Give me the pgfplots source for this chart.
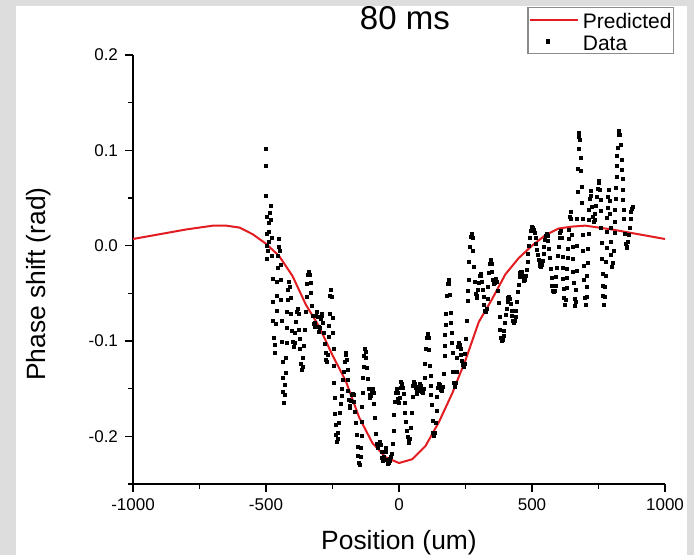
\documentclass[border=0pt]{standalone}
\usepackage{fontspec}
\setmainfont{Liberation Sans}
\usepackage{pgfplots}
\pgfplotsset{compat=1.18}
\definecolor{bggray}{RGB}{221,221,221}
\definecolor{predred}{RGB}{226,28,32}
\definecolor{legframe}{RGB}{140,140,140}
\pgfplotsset{
  predleg/.style={legend image code/.code={\draw[##1] (0pt,0pt) -- (24pt,0pt);}},
  dataleg/.style={legend image code/.code={\draw[mark repeat=2,mark phase=2,##1,only marks] plot coordinates {(0pt,0pt) (9pt,0pt) (24pt,0pt)};}},
}
\begin{document}
\begin{tikzpicture}[x=1pt,y=1pt]
\fill[bggray] (0,0) rectangle (347,277.5);
\fill[white] (8,0) rectangle (343.5,274.25);
\useasboundingbox (0,0) rectangle (347,277.5);
\begin{axis}[
  at={(66.5pt,35.5pt)}, anchor=south west,
  scale only axis, width=266pt, height=214.5pt,
  xmin=-1000, xmax=1000, ymin=-0.25, ymax=0.2,
  axis x line*=bottom, axis y line*=left,
  axis line style={line width=1pt,-},
  xtick={-1000,-500,0,500,1000}, xticklabels={-1000,-500,0,500,1000},
  minor xtick={-750,-250,250,750},
  ytick={-0.2,-0.1,0,0.1,0.2}, yticklabels={-0.2,-0.1,0.0,0.1,0.2},
  minor ytick={-0.25,-0.15,-0.05,0.05,0.15},
  tick align=outside, major tick length=4pt, minor tick length=2.5pt,
  every tick/.style={line width=0.8pt, black},
  ticklabel style={font=\fontsize{8.5}{10}\selectfont},
  title={80 ms},
  title style={at={(axis description cs:0.511,1.0326)}, anchor=base, font=\fontsize{16.5}{20}\selectfont},
  xlabel={Position (um)},
  xlabel style={at={(axis description cs:0.5,-0.1538)}, anchor=base, font=\fontsize{13.2}{16}\selectfont},
  ylabel={Phase shift (rad)},
  ylabel style={at={(axis description cs:-0.1654,0.466)}, anchor=base, rotate=0, font=\fontsize{13.2}{16}\selectfont},
  legend cell align=left,
  legend style={at={(axis description cs:1.0169,1.1119)}, anchor=north east, draw=legframe, line width=0.6pt, fill=white,
    font=\fontsize{10.5}{12}\selectfont, inner xsep=0.4pt, inner ysep=0pt, row sep=-1pt,
    nodes={inner xsep=0.5pt, inner ysep=0.25pt}, column sep=1.5pt},
]
\addplot[predred, line width=1pt, predleg] coordinates {
(-1000,0.007) (-900,0.012) (-800,0.017) (-700,0.021) (-650,0.021) (-600,0.019) (-550,0.012)
(-500,0.002) (-450,-0.011) (-400,-0.032) (-350,-0.062) (-300,-0.085) (-250,-0.115) (-200,-0.142)
(-150,-0.180) (-100,-0.207) (-50,-0.222) (0,-0.228) (50,-0.224) (100,-0.210) (150,-0.185)
(200,-0.155) (250,-0.120) (300,-0.080) (350,-0.056) (400,-0.030) (450,-0.013) (500,0.000)
(550,0.011) (600,0.018) (650,0.020) (700,0.021) (800,0.017) (900,0.012) (1000,0.007)
};
\addlegendentry{\rule{0pt}{10pt}Predicted}
\addplot[only marks, mark=square*, mark size=0.75pt, black, dataleg] table {
x y
-501 0.101
-500 0.084
-499 0.052
-498 0.030
-497 0.012
-496 0.000
-495 -0.014
-492 -0.006
-490.5 0.004
-489 0.014
-487.5 0.024
-486 0.034
-483 0.042
-480 0.027
-478.5 0.008
-477 -0.011
-475.5 -0.035
-474 -0.059
-472.5 -0.079
-471 -0.097
-468 -0.112
-465 -0.104
-462 -0.082
-460.5 -0.068
-459 -0.053
-457.5 -0.038
-456 -0.023
-454.5 -0.011
-453 -0.001
-450 0.007
-447 -0.005
-445.5 -0.020
-444 -0.036
-442.5 -0.057
-441 -0.079
-439.5 -0.101
-438 -0.122
-436.5 -0.139
-435 -0.153
-432 -0.165
-429 -0.157
-427.5 -0.146
-426 -0.133
-424.5 -0.118
-423 -0.102
-421.5 -0.086
-420 -0.070
-418.5 -0.057
-417 -0.046
-414 -0.038
-411 -0.043
-408 -0.055
-405 -0.072
-402 -0.089
-399 -0.101
-396 -0.106
-393 -0.102
-390 -0.092
-387 -0.080
-384 -0.070
-381 -0.066
-378 -0.072
-375 -0.088
-373.5 -0.098
-372 -0.108
-369 -0.124
-366 -0.130
-363 -0.127
-360 -0.118
-357 -0.105
-354 -0.088
-351 -0.070
-348 -0.054
-345 -0.040
-342 -0.031
-339 -0.028
-336 -0.031
-333 -0.039
-330 -0.050
-327 -0.063
-324 -0.074
-321 -0.082
-318 -0.085
-315 -0.081
-312 -0.074
-309 -0.070
-306 -0.075
-303 -0.085
-300 -0.090
-297 -0.086
-294 -0.077
-291 -0.072
-288 -0.074
-285 -0.081
-282 -0.091
-279 -0.103
-276 -0.113
-273 -0.120
-270 -0.122
-267 -0.115
-264 -0.096
-262.5 -0.084
-261 -0.072
-258 -0.053
-255 -0.046
-252 -0.054
-249 -0.076
-247.5 -0.092
-246 -0.108
-244.5 -0.126
-243 -0.144
-241.5 -0.160
-240 -0.176
-238.5 -0.188
-237 -0.198
-234 -0.206
-231 -0.203
-228 -0.196
-225 -0.186
-222 -0.175
-219 -0.166
-216 -0.158
-213 -0.150
-210 -0.141
-207 -0.132
-204 -0.122
-201 -0.115
-198 -0.112
-195 -0.120
-193.5 -0.130
-192 -0.141
-190.5 -0.152
-189 -0.162
-186 -0.170
-183 -0.168
-180 -0.163
-177 -0.157
-174 -0.155
-171 -0.157
-168 -0.164
-165 -0.174
-162 -0.186
-159 -0.199
-156 -0.211
-153 -0.221
-150 -0.228
-147 -0.230
-144 -0.222
-142.5 -0.212
-141 -0.200
-139.5 -0.185
-138 -0.169
-136.5 -0.154
-135 -0.139
-133.5 -0.127
-132 -0.116
-129 -0.108
-126 -0.111
-123 -0.118
-120 -0.128
-117 -0.140
-114 -0.150
-111 -0.157
-108 -0.160
-105 -0.158
-102 -0.153
-99 -0.150
-96 -0.154
-93 -0.166
-90 -0.181
-87 -0.197
-84 -0.208
-81 -0.212
-78 -0.211
-75 -0.208
-72 -0.206
-69 -0.209
-66 -0.216
-63 -0.223
-60 -0.226
-57 -0.222
-54 -0.216
-51 -0.212
-48 -0.216
-45 -0.225
-42 -0.229
-39 -0.228
-36 -0.226
-33 -0.224
-30 -0.222
-27 -0.218
-24 -0.208
-21 -0.194
-18 -0.178
-15 -0.164
-12 -0.154
-9 -0.150
-6 -0.154
-3 -0.161
0 -0.165
3 -0.160
6 -0.149
9 -0.143
12 -0.145
15 -0.149
18 -0.156
21 -0.165
24 -0.175
27 -0.185
30 -0.194
33 -0.201
36 -0.205
39 -0.207
42 -0.203
45 -0.191
48 -0.175
51 -0.159
54 -0.147
57 -0.143
60 -0.145
63 -0.149
66 -0.153
69 -0.155
72 -0.152
75 -0.148
78 -0.145
81 -0.147
84 -0.150
87 -0.153
90 -0.154
93 -0.150
96 -0.139
99 -0.124
102 -0.108
105 -0.097
108 -0.093
111 -0.097
114 -0.109
117 -0.126
118.5 -0.137
120 -0.147
121.5 -0.157
123 -0.167
126 -0.184
129 -0.196
132 -0.200
135 -0.196
138 -0.186
141 -0.173
144 -0.159
147 -0.149
150 -0.145
153 -0.146
156 -0.148
159 -0.151
162 -0.152
165 -0.148
168 -0.135
171 -0.116
172.5 -0.105
174 -0.094
175.5 -0.083
177 -0.072
180 -0.053
183 -0.040
186 -0.036
189 -0.040
192 -0.052
195 -0.071
196.5 -0.081
198 -0.092
199.5 -0.102
201 -0.113
204 -0.132
207 -0.144
210 -0.148
213 -0.144
216 -0.132
219 -0.118
222 -0.106
225 -0.102
228 -0.104
231 -0.108
234 -0.115
237 -0.121
240 -0.125
243 -0.127
246 -0.124
249 -0.114
252 -0.098
255 -0.079
258 -0.058
259.5 -0.047
261 -0.036
264 -0.017
267 -0.001
270 0.009
273 0.012
276 0.008
279 -0.005
282 -0.022
285 -0.038
288 -0.051
291 -0.055
294 -0.053
297 -0.046
300 -0.039
303 -0.032
306 -0.030
309 -0.032
312 -0.038
315 -0.046
318 -0.054
321 -0.062
324 -0.068
327 -0.070
330 -0.066
333 -0.056
336 -0.043
339 -0.029
342 -0.019
345 -0.015
348 -0.019
351 -0.028
354 -0.036
357 -0.040
360 -0.039
363 -0.037
366 -0.035
369 -0.038
372 -0.047
375 -0.060
378 -0.075
381 -0.088
384 -0.097
387 -0.100
390 -0.099
393 -0.095
396 -0.089
399 -0.081
402 -0.073
405 -0.066
408 -0.059
411 -0.055
414 -0.054
417 -0.056
420 -0.061
423 -0.068
426 -0.074
429 -0.079
432 -0.081
435 -0.079
438 -0.075
441 -0.068
444 -0.059
447 -0.049
450 -0.041
453 -0.033
456 -0.029
459 -0.027
462 -0.028
465 -0.032
468 -0.035
471 -0.037
474 -0.036
477 -0.032
480 -0.025
483 -0.017
486 -0.009
489 0.000
492 0.008
495 0.015
498 0.019
501 0.020
504 0.019
507 0.017
510 0.013
513 0.008
516 0.002
519 -0.004
522 -0.010
525 -0.015
528 -0.019
531 -0.021
534 -0.022
537 -0.020
540 -0.016
543 -0.009
546 -0.001
549 0.006
552 0.010
555 0.012
558 0.010
561 0.005
564 -0.003
567 -0.013
570 -0.024
573 -0.034
576 -0.042
579 -0.047
582 -0.049
585 -0.047
588 -0.042
591 -0.033
594 -0.023
597 -0.011
600 -0.001
603 0.008
606 0.013
609 0.015
612 0.008
615 -0.012
616.5 -0.023
618 -0.035
619.5 -0.045
621 -0.055
624 -0.062
627 -0.057
630 -0.044
631.5 -0.034
633 -0.024
634.5 -0.013
636 -0.003
637.5 0.007
639 0.017
642 0.030
645 0.035
648 0.028
651 0.011
652.5 -0.001
654 -0.014
655.5 -0.027
657 -0.039
660 -0.056
663 -0.063
664.5 -0.059
666 -0.046
667.5 -0.026
669 0.000
670.5 0.028
672 0.056
673.5 0.081
675 0.101
676.5 0.114
678 0.118
681 0.111
684 0.092
685.5 0.078
687 0.062
688.5 0.045
690 0.028
691.5 0.011
693 -0.006
694.5 -0.021
696 -0.036
699 -0.055
702 -0.062
705 -0.054
706.5 -0.043
708 -0.032
709.5 -0.018
711 -0.003
712.5 0.012
714 0.027
715.5 0.038
717 0.049
720 0.057
723 0.052
726 0.041
729 0.030
732 0.025
735 0.027
738 0.033
741 0.042
744 0.051
747 0.060
750 0.066
753 0.068
756 0.059
757.5 0.048
759 0.036
760.5 0.019
762 0.003
763.5 -0.014
765 -0.030
766.5 -0.042
768 -0.053
771 -0.062
774 -0.054
775.5 -0.043
777 -0.032
778.5 -0.017
780 -0.002
781.5 0.014
783 0.029
784.5 0.040
786 0.051
789 0.059
792 0.047
793.5 0.033
795 0.019
796.5 0.004
798 -0.010
801 -0.022
804 -0.018
807 -0.005
810 0.013
811.5 0.025
813 0.037
814.5 0.049
816 0.061
817.5 0.072
819 0.084
820.5 0.094
822 0.103
825 0.116
828 0.120
831 0.116
834 0.106
837 0.090
838.5 0.080
840 0.070
841.5 0.059
843 0.048
844.5 0.038
846 0.028
849 0.012
852 0.002
855 -0.002
858 -0.001
861 0.004
864 0.011
867 0.019
870 0.028
873 0.035
876 0.039
879 0.041
};
\addlegendentry{\rule{0pt}{10pt}Data}
\end{axis}
\end{tikzpicture}
\end{document}
